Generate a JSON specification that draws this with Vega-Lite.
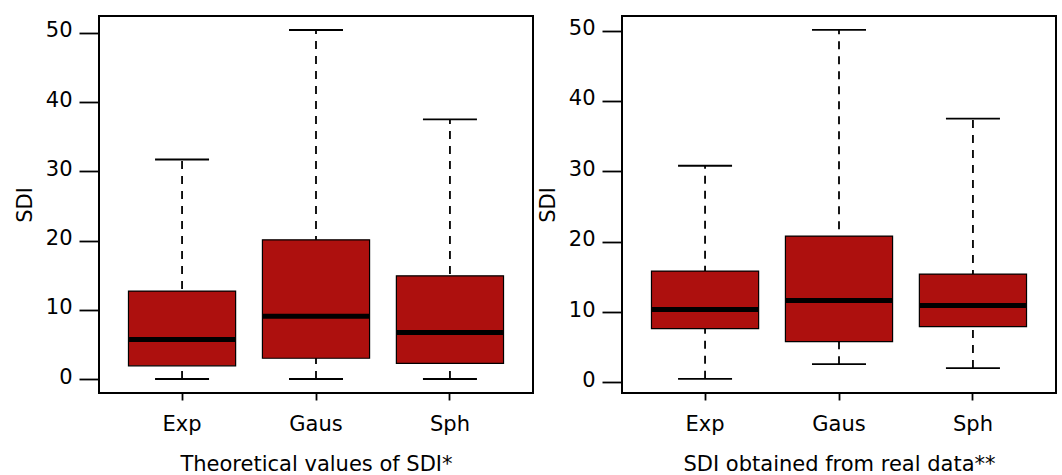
{
  "$schema": "https://vega.github.io/schema/vega-lite/v6.json",
  "padding": {"left": 13, "top": 15, "right": 5, "bottom": 0},
  "bounds": "flush",
  "spacing": 89,
  "background": "white",
  "config": {
    "font": "DejaVu Sans",
    "view": {"stroke": "#000", "strokeWidth": 2},
    "tick": {"opacity": 1},
    "axis": {
      "grid": false, "domain": false, "tickColor": "#000", "tickWidth": 1.8,
      "labelColor": "#000", "titleColor": "#000", "labelFontSize": 21, "titleFontSize": 21,
      "titleFontWeight": "normal", "labelFont": "DejaVu Sans", "titleFont": "DejaVu Sans"
    },
    "axisY": {"tickSize": 20, "labelPadding": 7, "titlePadding": 10, "labelOffset": -2},
    "axisX": {"tickSize": 7, "labelPadding": 13, "titlePadding": 19, "labelAngle": 0}
  },
  "data": {"values": [
    {"panel": "theo", "model": "Exp", "lower": 0, "q1": 1.9, "median": 5.7, "q3": 12.7, "upper": 31.7},
    {"panel": "theo", "model": "Gaus", "lower": 0, "q1": 3.0, "median": 9.05, "q3": 20.1, "upper": 50.4},
    {"panel": "theo", "model": "Sph", "lower": 0, "q1": 2.25, "median": 6.7, "q3": 14.9, "upper": 37.5},
    {"panel": "real", "model": "Exp", "lower": 0.52, "q1": 7.64, "median": 10.38, "q3": 15.83, "upper": 30.8},
    {"panel": "real", "model": "Gaus", "lower": 2.6, "q1": 5.79, "median": 11.66, "q3": 20.8, "upper": 50.1},
    {"panel": "real", "model": "Sph", "lower": 2.04, "q1": 7.92, "median": 10.95, "q3": 15.4, "upper": 37.5}
  ]},
  "hconcat": [
    {
      "width": 434, "height": 377,
      "transform": [{"filter": "datum.panel === 'theo'"}],
      "encoding": {
        "x": {"field": "model", "type": "nominal", "sort": ["Exp", "Gaus", "Sph"],
              "scale": {"paddingInner": 0.2, "paddingOuter": 0.22},
              "axis": {"title": "Theoretical values of SDI*"}}
      },
      "layer": [
        {"mark": {"type": "rule", "strokeDash": [8, 7], "strokeWidth": 1.8, "color": "#000"},
         "encoding": {
           "y": {"field": "lower", "type": "quantitative", "scale": {"domain": [-2.02, 52.42], "nice": false, "zero": false},
                 "axis": {"title": "SDI", "values": [0, 10, 20, 30, 40, 50]}},
           "y2": {"field": "upper"}}},
        {"mark": {"type": "tick", "size": 54, "thickness": 1.8, "color": "#000", "opacity": 1},
         "encoding": {"y": {"field": "upper", "type": "quantitative", "scale": {"domain": [-2.02, 52.42], "nice": false, "zero": false},
                 "axis": {"title": "SDI", "values": [0, 10, 20, 30, 40, 50]}}}},
        {"mark": {"type": "tick", "size": 54, "thickness": 1.8, "color": "#000", "opacity": 1},
         "encoding": {"y": {"field": "lower", "type": "quantitative", "scale": {"domain": [-2.02, 52.42], "nice": false, "zero": false},
                 "axis": {"title": "SDI", "values": [0, 10, 20, 30, 40, 50]}}}},
        {"mark": {"type": "bar", "fill": "#AD100E", "stroke": "#000", "strokeWidth": 1.2, "opacity": 1},
         "encoding": {
           "y": {"field": "q1", "type": "quantitative", "scale": {"domain": [-2.02, 52.42], "nice": false, "zero": false},
                 "axis": {"title": "SDI", "values": [0, 10, 20, 30, 40, 50]}},
           "y2": {"field": "q3"}}},
        {"mark": {"type": "tick", "size": 106, "thickness": 5, "color": "#000", "opacity": 1},
         "encoding": {"y": {"field": "median", "type": "quantitative", "scale": {"domain": [-2.02, 52.42], "nice": false, "zero": false},
                 "axis": {"title": "SDI", "values": [0, 10, 20, 30, 40, 50]}}}}
      ]
    },
    {
      "width": 434, "height": 377,
      "transform": [{"filter": "datum.panel === 'real'"}],
      "encoding": {
        "x": {"field": "model", "type": "nominal", "sort": ["Exp", "Gaus", "Sph"],
              "scale": {"paddingInner": 0.2, "paddingOuter": 0.22},
              "axis": {"title": "SDI obtained from real data**"}}
      },
      "layer": [
        {"mark": {"type": "rule", "strokeDash": [8, 7], "strokeWidth": 1.8, "color": "#000"},
         "encoding": {
           "y": {"field": "lower", "type": "quantitative", "scale": {"domain": [-1.5, 52.08], "nice": false, "zero": false},
                 "axis": {"title": "SDI", "values": [0, 10, 20, 30, 40, 50]}},
           "y2": {"field": "upper"}}},
        {"mark": {"type": "tick", "size": 54, "thickness": 1.8, "color": "#000", "opacity": 1},
         "encoding": {"y": {"field": "upper", "type": "quantitative", "scale": {"domain": [-1.5, 52.08], "nice": false, "zero": false},
                 "axis": {"title": "SDI", "values": [0, 10, 20, 30, 40, 50]}}}},
        {"mark": {"type": "tick", "size": 54, "thickness": 1.8, "color": "#000", "opacity": 1},
         "encoding": {"y": {"field": "lower", "type": "quantitative", "scale": {"domain": [-1.5, 52.08], "nice": false, "zero": false},
                 "axis": {"title": "SDI", "values": [0, 10, 20, 30, 40, 50]}}}},
        {"mark": {"type": "bar", "fill": "#AD100E", "stroke": "#000", "strokeWidth": 1.2, "opacity": 1},
         "encoding": {
           "y": {"field": "q1", "type": "quantitative", "scale": {"domain": [-1.5, 52.08], "nice": false, "zero": false},
                 "axis": {"title": "SDI", "values": [0, 10, 20, 30, 40, 50]}},
           "y2": {"field": "q3"}}},
        {"mark": {"type": "tick", "size": 106, "thickness": 5, "color": "#000", "opacity": 1},
         "encoding": {"y": {"field": "median", "type": "quantitative", "scale": {"domain": [-1.5, 52.08], "nice": false, "zero": false},
                 "axis": {"title": "SDI", "values": [0, 10, 20, 30, 40, 50]}}}}
      ]
    }
  ]
}
